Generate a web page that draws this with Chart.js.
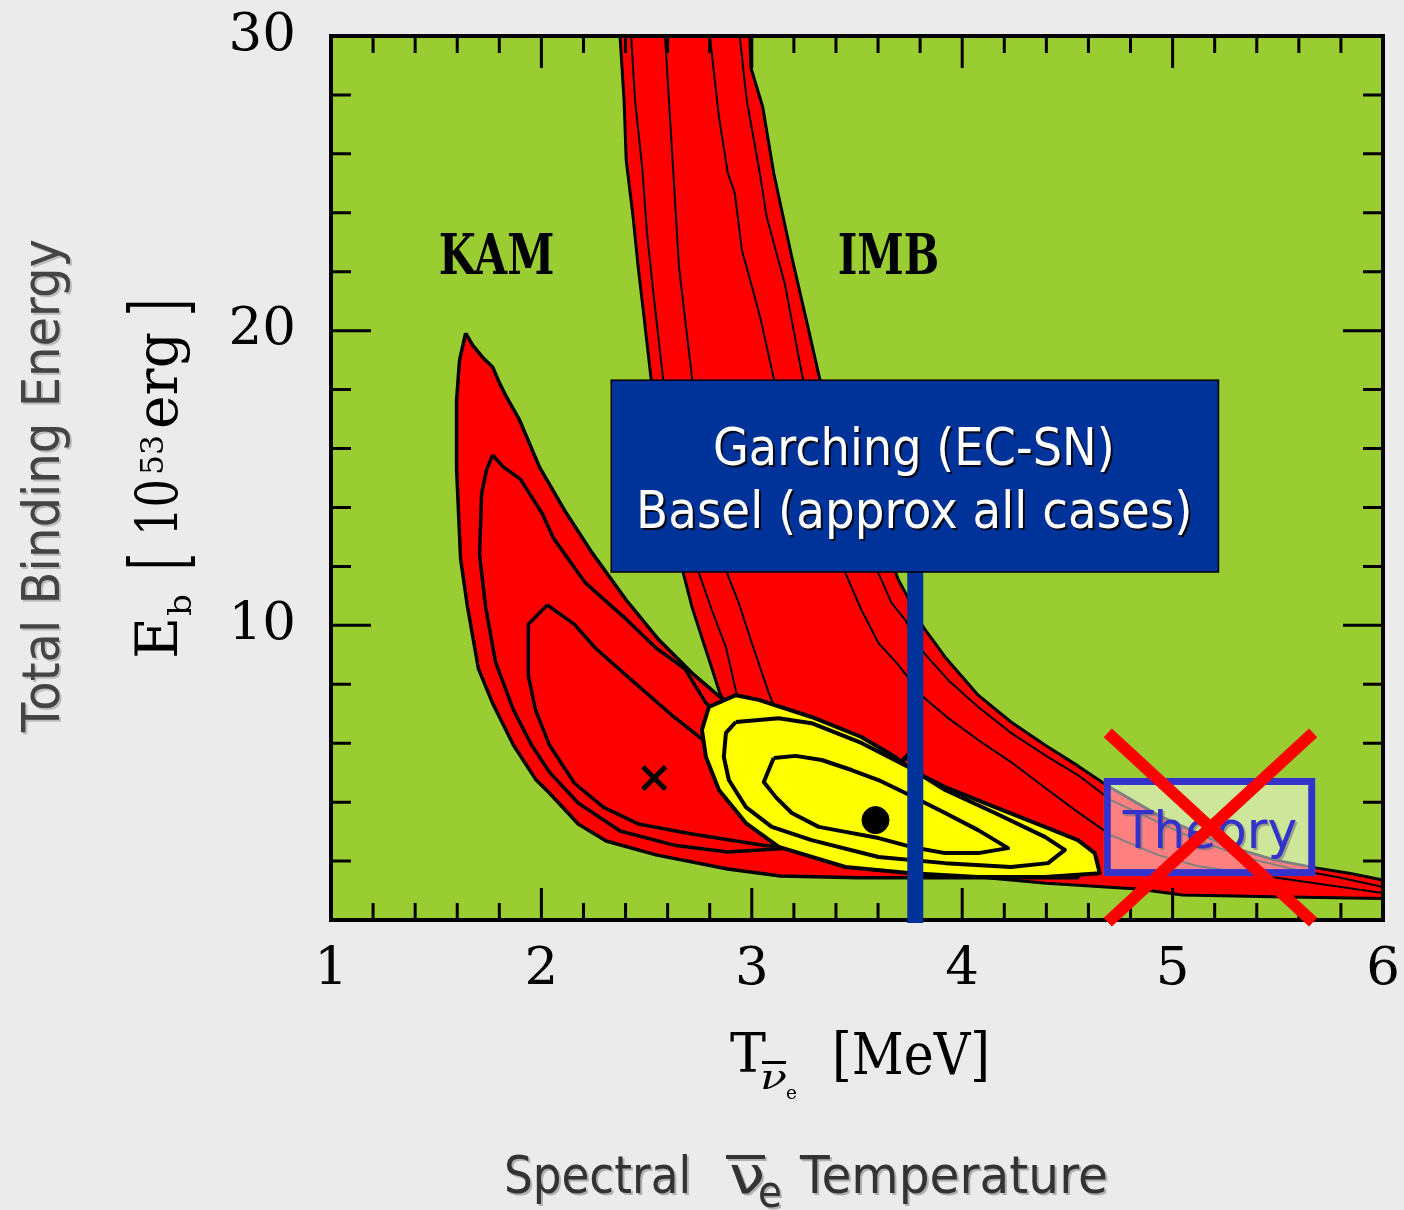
<!DOCTYPE html>
<html>
<head>
<meta charset="utf-8">
<script src="https://cdn.jsdelivr.net/npm/chart.js@4.4.1/dist/chart.umd.min.js"></script>
<style>
  html, body { margin: 0; padding: 0; background: #ebebeb; }
  #wrap { width: 1404px; height: 1210px; position: relative; }
</style>
</head>
<body>
<div id="wrap"><canvas id="chart"></canvas></div>
<script>
// Ejes
const xTickValues = [1, 2, 3, 4, 5, 6];
const yTickValues = [10, 20, 30];

// Contornos Kamiokande (T en MeV, E en 1e53 erg)
const kamOuterT = [1.640, 1.673, 1.720, 1.768, 1.801, 1.834, 1.896, 1.991, 2.118, 2.242, 2.403, 2.559, 2.716, 2.848, 3.223, 3.697, 4.171, 4.550, 4.550, 3.934, 3.507, 3.137, 2.886, 2.545, 2.308, 2.175, 2.038, 1.972, 1.867, 1.768, 1.701, 1.649, 1.616, 1.597, 1.597, 1.611, 1.640];
const kamOuterE = [19.92, 19.51, 19.10, 18.77, 18.22, 17.75, 16.97, 15.37, 13.81, 12.45, 10.86, 9.50, 8.38, 7.57, 5.43, 3.39, 2.21, 1.63, 1.43, 1.43, 1.43, 1.49, 1.73, 2.21, 2.68, 3.26, 4.31, 4.78, 5.94, 7.36, 8.52, 10.62, 12.25, 15.30, 17.65, 19.00, 19.92];
const kamMidT = [1.768, 1.820, 1.900, 2.005, 2.057, 2.209, 2.412, 2.545, 2.682, 2.782, 3.223, 3.697, 3.981, 3.190, 2.886, 2.630, 2.374, 2.175, 2.038, 1.953, 1.867, 1.782, 1.735, 1.706, 1.716, 1.739, 1.768];
const kamMidE = [15.78, 15.37, 14.96, 13.78, 12.96, 11.44, 10.15, 9.23, 8.52, 7.36, 4.75, 2.71, 2.10, 2.44, 2.31, 2.54, 3.02, 3.97, 5.02, 5.94, 7.13, 8.75, 10.62, 12.39, 14.49, 15.27, 15.78];
const kamInT = [2.028, 2.156, 2.256, 2.445, 2.630, 2.768, 3.128, 3.460, 3.223, 3.052, 2.716, 2.460, 2.294, 2.156, 2.038, 1.972, 1.938, 1.938, 2.028];
const kamInE = [10.69, 10.04, 9.23, 8.04, 6.89, 6.11, 4.07, 2.71, 2.44, 2.54, 2.92, 3.26, 3.83, 4.65, 5.94, 7.13, 8.28, 10.04, 10.69];

// Contornos IMB
const imbOuterT = [2.37, 2.374, 2.393, 2.403, 2.436, 2.460, 2.488, 2.521, 2.673, 2.716, 2.768, 2.801, 2.848, 3.128, 3.460, 3.934, 4.40, 4.834, 5.047, 5.545, 6.05, 6.05, 6.0, 5.839, 5.687, 5.483, 5.275, 5.118, 4.929, 4.692, 4.550, 4.393, 4.232, 4.076, 3.919, 3.815, 3.730, 3.697, 3.322, 3.256, 3.190, 3.104, 3.052, 2.995, 2.991, 2.99, 2.37];
const imbOuterE = [31, 29.96, 27.82, 25.79, 23.85, 22.16, 20.46, 18.39, 11.81, 10.62, 9.47, 8.75, 7.70, 4.07, 2.38, 1.55, 1.25, 1.05, 0.85, 0.78, 0.72, 1.36, 1.36, 1.59, 1.76, 2.04, 2.48, 2.95, 3.56, 4.55, 5.23, 5.94, 6.72, 7.63, 8.92, 9.94, 11.10, 11.54, 18.39, 20.46, 22.50, 25.35, 27.59, 28.94, 29.96, 31, 31];
const imbL2T = [2.42, 2.427, 2.445, 2.479, 2.502, 2.536, 2.578, 2.749, 2.810, 2.877, 2.924, 2.962];
const imbL2E = [31, 29.96, 27.82, 25.55, 23.31, 21.04, 18.39, 11.77, 10.52, 9.26, 7.80, 6.79];
const imbL3T = [2.585, 2.588, 2.611, 2.630, 2.654, 2.682, 2.716, 2.882, 2.938, 3.000, 3.081, 3.152];
const imbL3E = [31, 29.96, 27.25, 25.01, 22.16, 20.46, 18.39, 11.77, 10.76, 9.40, 7.70, 6.45];
const imbL4T = [2.80, 2.801, 2.844, 2.886, 2.919, 2.953, 3.005, 3.043, 3.104, 3.445, 3.521, 3.602, 3.697, 3.815, 3.934, 4.076, 4.232, 4.408, 4.550, 4.706, 4.929, 5.118, 5.403, 5.735, 6.0];
const imbL4E = [31, 29.96, 27.25, 25.35, 24.67, 22.73, 21.38, 20.36, 18.39, 11.77, 10.52, 9.40, 8.65, 7.57, 6.85, 6.11, 5.36, 4.41, 3.66, 2.88, 2.21, 1.83, 1.53, 1.19, 0.92];
const imbL5T = [2.943, 2.943, 2.976, 3.038, 3.071, 3.156, 3.242, 3.602, 3.664, 3.730, 3.815, 3.934, 4.076, 4.232, 4.408, 4.550, 4.706, 4.929, 5.118, 5.355, 5.592, 5.782, 6.0];
const imbL5E = [31, 29.96, 27.82, 25.35, 23.85, 21.62, 18.39, 11.77, 10.76, 10.18, 9.09, 8.14, 7.23, 6.35, 5.53, 4.92, 4.07, 3.33, 2.71, 2.10, 1.70, 1.46, 1.12];

// Contornos combinados (amarillo)
const yelOuterT = [2.796, 2.924, 3.033, 3.284, 3.521, 3.682, 3.758, 3.919, 4.156, 4.393, 4.550, 4.630, 4.654, 4.393, 4.076, 3.758, 3.445, 3.128, 2.972, 2.844, 2.782, 2.763, 2.796];
const yelOuterE = [7.23, 7.63, 7.47, 6.89, 6.21, 5.53, 5.09, 4.51, 3.83, 3.16, 2.71, 2.27, 1.59, 1.46, 1.46, 1.59, 1.80, 2.48, 3.29, 4.41, 5.53, 6.45, 7.23];
const yelMidT = [2.924, 3.128, 3.284, 3.521, 3.744, 3.919, 4.156, 4.393, 4.488, 4.408, 4.232, 3.919, 3.602, 3.284, 3.095, 2.972, 2.891, 2.867, 2.877, 2.924];
const yelMidE = [6.72, 6.85, 6.68, 6.01, 5.19, 4.41, 3.63, 2.82, 2.38, 1.93, 1.80, 1.93, 2.14, 2.71, 3.16, 3.83, 4.75, 5.53, 6.35, 6.72];
const yelInT = [3.104, 3.209, 3.332, 3.474, 3.602, 3.730, 3.919, 4.076, 4.218, 4.076, 3.919, 3.758, 3.602, 3.445, 3.318, 3.190, 3.114, 3.057, 3.104];
const yelInE = [5.50, 5.57, 5.43, 5.09, 4.75, 4.31, 3.63, 3.05, 2.44, 2.27, 2.27, 2.48, 2.78, 2.99, 3.16, 3.63, 4.17, 4.68, 5.50];

// Mejores ajustes: KAM, IMB, combinado
const bestFitT = [2.536, 3.697, 3.588];
const bestFitE = [4.82, 5.26, 3.39];

// Anotaciones
const modelBoxT = [2.332, 5.218];
const modelBoxE = [11.81, 18.32];
const modelLineT = 3.777;
const theoryBoxT = [4.673, 5.678];
const theoryBoxE = [1.49, 4.82];
const crossT = [4.692, 5.668];
const crossE = [6.35, -0.07];
const labelTexts = ['KAM', 'IMB'];
const labelLeftT = [1.512, 3.408];
const labelRightT = [2.062, 3.891];
const labelBaseE = 21.92;

const RED = '#ff0000';
const YELLOW = '#ffff00';

function poly(xs, ys, fillColor, width) {
    return {
        data: xs.map((t, i) => ({ x: t, y: ys[i] })),
        showLine: true,
        fill: fillColor ? 'shape' : false,
        backgroundColor: fillColor || 'transparent',
        borderColor: '#000',
        borderWidth: width,
        borderJoinStyle: 'round',
        pointRadius: 0,
        tension: 0
    };
}

function marker(i, style, radius, lw) {
    return {
        data: [{ x: bestFitT[i], y: bestFitE[i] }],
        showLine: false,
        pointStyle: style,
        pointRadius: radius,
        pointBorderWidth: lw,
        pointBackgroundColor: '#000',
        pointBorderColor: '#000'
    };
}

// Orden de dibujo: de abajo hacia arriba
const datasets = [
    poly(imbOuterT, imbOuterE, RED, 3),
    poly(imbL2T, imbL2E, null, 2),
    poly(imbL3T, imbL3E, null, 2),
    poly(imbL4T, imbL4E, null, 2),
    poly(imbL5T, imbL5E, null, 2),
    marker(1, 'crossRot', 16, 5),
    poly(kamOuterT, kamOuterE, RED, 3.5),
    poly(kamMidT, kamMidE, RED, 3.5),
    poly(kamInT, kamInE, RED, 3.5),
    marker(0, 'crossRot', 16, 5),
    poly(yelOuterT, yelOuterE, YELLOW, 4),
    poly(yelMidT, yelMidE, YELLOW, 4),
    poly(yelInT, yelInE, YELLOW, 4),
    marker(2, 'circle', 13.5, 1)
];
datasets.forEach((d, i) => { d.order = datasets.length - i; });

// Texto ajustado a un ancho dado
function fitText(ctx, txt, x, y, w, font) {
    ctx.save();
    ctx.font = font;
    const m = ctx.measureText(txt).width;
    ctx.translate(x, y);
    ctx.scale(w / m, 1);
    ctx.textAlign = 'left';
    ctx.textBaseline = 'alphabetic';
    ctx.fillText(txt, 0, 0);
    ctx.restore();
}

const SERIF = '"DejaVu Serif", serif';
const SANS = '"DejaVu Sans", sans-serif';

const decorations = {
    id: 'decorations',
    beforeDraw(chart) {
        const { ctx, chartArea: a } = chart;
        ctx.save();
        ctx.fillStyle = '#9acd32';
        ctx.fillRect(a.left, a.top, a.right - a.left, a.bottom - a.top);
        ctx.restore();
    },
    afterDatasetsDraw(chart) {
        const { ctx, chartArea: a, scales: { x, y } } = chart;
        ctx.save();

        // Marco y marcas
        ctx.strokeStyle = '#000';
        ctx.lineWidth = 4;
        ctx.strokeRect(a.left, a.top, a.right - a.left, a.bottom - a.top);
        ctx.lineWidth = 3;
        ctx.beginPath();
        for (let i = 1; i < 25; i++) {
            const px = x.getPixelForValue(1 + i * 0.2);
            const len = i % 5 === 0 ? 32 : 17;
            ctx.moveTo(px, a.bottom); ctx.lineTo(px, a.bottom - len);
            ctx.moveTo(px, a.top); ctx.lineTo(px, a.top + len);
        }
        for (let i = 1; i < 15; i++) {
            const py = y.getPixelForValue(i * 2);
            const len = i % 5 === 0 ? 40 : 20;
            ctx.moveTo(a.left, py); ctx.lineTo(a.left + len, py);
            ctx.moveTo(a.right, py); ctx.lineTo(a.right - len, py);
        }
        ctx.stroke();

        // Etiquetas KAM / IMB
        ctx.fillStyle = '#000';
        labelTexts.forEach((txt, i) => {
            const l = x.getPixelForValue(labelLeftT[i]);
            const r = x.getPixelForValue(labelRightT[i]);
            fitText(ctx, txt, l, y.getPixelForValue(labelBaseE), r - l, 'bold 56px ' + SERIF);
        });

        // Línea vertical del modelo
        const lx = x.getPixelForValue(modelLineT);
        ctx.fillStyle = '#003399';
        ctx.fillRect(lx - 8, y.getPixelForValue(modelBoxE[0]), 16, a.bottom + 3 - y.getPixelForValue(modelBoxE[0]));

        // Caja azul
        const bl = x.getPixelForValue(modelBoxT[0]), br = x.getPixelForValue(modelBoxT[1]);
        const bt = y.getPixelForValue(modelBoxE[1]), bb = y.getPixelForValue(modelBoxE[0]);
        ctx.fillStyle = '#003399';
        ctx.fillRect(bl, bt, br - bl, bb - bt);
        ctx.strokeStyle = '#000';
        ctx.lineWidth = 1.5;
        ctx.strokeRect(bl, bt, br - bl, bb - bt);
        ctx.fillStyle = '#fff';
        ctx.shadowColor = 'rgba(0,0,0,0.85)';
        ctx.shadowOffsetX = 2; ctx.shadowOffsetY = 2;
        fitText(ctx, 'Garching (EC-SN)', x.getPixelForValue(2.815), y.getPixelForValue(15.44), x.getPixelForValue(4.725) - x.getPixelForValue(2.815), '52px ' + SANS);
        fitText(ctx, 'Basel (approx all cases)', x.getPixelForValue(2.450), y.getPixelForValue(13.30), x.getPixelForValue(5.095) - x.getPixelForValue(2.450), '52px ' + SANS);
        ctx.shadowColor = 'transparent';

        // Caja "Theory"
        const tl = x.getPixelForValue(theoryBoxT[0]), tr = x.getPixelForValue(theoryBoxT[1]);
        const tt = y.getPixelForValue(theoryBoxE[1]), tb = y.getPixelForValue(theoryBoxE[0]);
        ctx.fillStyle = 'rgba(255,255,255,0.5)';
        ctx.fillRect(tl, tt, tr - tl, tb - tt);
        ctx.strokeStyle = '#3333cc';
        ctx.lineWidth = 7;
        ctx.strokeRect(tl + 3.5, tt + 3.5, tr - tl - 7, tb - tt - 7);
        ctx.fillStyle = '#3333cc';
        ctx.shadowColor = 'rgba(120,120,120,0.6)';
        ctx.shadowOffsetX = 2; ctx.shadowOffsetY = 2;
        fitText(ctx, 'Theory', x.getPixelForValue(4.763), y.getPixelForValue(2.44), x.getPixelForValue(5.592) - x.getPixelForValue(4.763), '52px ' + SANS);
        ctx.shadowColor = 'transparent';

        // Cruz roja
        ctx.strokeStyle = RED;
        ctx.lineWidth = 12;
        ctx.lineCap = 'butt';
        ctx.beginPath();
        ctx.moveTo(x.getPixelForValue(crossT[0]), y.getPixelForValue(crossE[0]));
        ctx.lineTo(x.getPixelForValue(crossT[1]), y.getPixelForValue(crossE[1]));
        ctx.moveTo(x.getPixelForValue(crossT[1]), y.getPixelForValue(crossE[0]));
        ctx.lineTo(x.getPixelForValue(crossT[0]), y.getPixelForValue(crossE[1]));
        ctx.stroke();
        ctx.restore();
    },
    afterDraw(chart) {
        const { ctx } = chart;
        ctx.save();

        // Título eje Y (gris)
        ctx.save();
        ctx.translate(59, 732);
        ctx.rotate(-Math.PI / 2);
        ctx.fillStyle = '#444';
        ctx.shadowColor = 'rgba(0,0,0,0.2)';
        ctx.shadowOffsetX = 2; ctx.shadowOffsetY = 2;
        fitText(ctx, 'Total Binding Energy', 0, 0, 493, '52px ' + SANS);
        ctx.restore();

        // E_b [10^53 erg]
        ctx.save();
        ctx.translate(177, 659);
        ctx.rotate(-Math.PI / 2);
        ctx.fillStyle = '#000';
        fitText(ctx, 'E', 0, 0, 42, '57px ' + SERIF);
        fitText(ctx, 'b', 43, 14, 22, '32px ' + SERIF);
        fitText(ctx, '[', 89, 8, 17, '76px ' + SERIF);
        fitText(ctx, '10', 123, 0, 57, '57px ' + SERIF);
        fitText(ctx, '53', 184, -14, 40, '31px ' + SERIF);
        fitText(ctx, 'erg', 230, 0, 97, '57px ' + SERIF);
        fitText(ctx, ']', 343, 8, 17, '76px ' + SERIF);
        ctx.restore();

        // T_nu_e [MeV]
        ctx.fillStyle = '#000';
        fitText(ctx, 'T', 730, 1072, 36, '55px ' + SERIF);
        fitText(ctx, '\u03bd', 760, 1089, 27, 'italic 36px ' + SERIF);
        ctx.fillRect(762, 1061, 24, 3);
        fitText(ctx, 'e', 786, 1099, 11, '18px ' + SERIF);
        fitText(ctx, '[MeV]', 832, 1074, 158, '58px ' + SERIF);

        // Spectral nu_e Temperature
        ctx.fillStyle = '#333';
        ctx.shadowColor = 'rgba(0,0,0,0.25)';
        ctx.shadowOffsetX = 2; ctx.shadowOffsetY = 2;
        fitText(ctx, 'Spectral', 504, 1193, 187, '52px ' + SANS);
        fitText(ctx, '\u03bd', 729, 1193, 36, '52px ' + SANS);
        ctx.fillRect(726, 1155, 39, 4);
        fitText(ctx, 'e', 758, 1207, 24, '44px ' + SANS);
        fitText(ctx, 'Temperature', 800, 1193, 308, '52px ' + SANS);
        ctx.restore();
    }
};

new Chart(document.getElementById('chart'), {
    type: 'scatter',
    data: { datasets },
    options: {
        responsive: true,
        maintainAspectRatio: false,
        animation: false,
        layout: { padding: { top: 36, right: 18, left: 0, bottom: 0 } },
        plugins: { legend: { display: false }, tooltip: { enabled: false } },
        scales: {
            x: {
                type: 'linear', min: 1, max: 6,
                ticks: {
                    stepSize: 1, color: '#000', padding: 18, maxRotation: 0, autoSkip: false,
                    font: { family: 'DejaVu Serif', size: 53 },
                    callback: v => xTickValues.includes(v) ? String(v) : ''
                },
                grid: { display: false, drawTicks: false },
                border: { display: false },
                afterFit: s => { s.height = 290; s.paddingLeft = 0; s.paddingRight = 0; }
            },
            y: {
                type: 'linear', min: 0, max: 30,
                ticks: {
                    stepSize: 10, color: '#000', padding: 35,
                    font: { family: 'DejaVu Serif', size: 53 },
                    callback: v => yTickValues.includes(v) ? String(v) : ''
                },
                grid: { display: false, drawTicks: false },
                border: { display: false },
                afterFit: s => { s.width = 331; s.paddingTop = 0; s.paddingBottom = 0; }
            }
        }
    },
    plugins: [decorations]
});
</script>
</body>
</html>
